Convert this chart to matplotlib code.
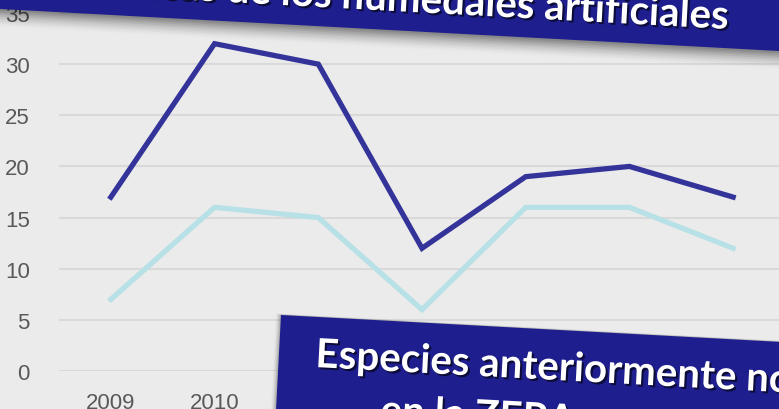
import matplotlib
matplotlib.use("Agg")
import matplotlib.pyplot as plt
from matplotlib.patches import Polygon
import matplotlib.patheffects as pe
import numpy as np

years = ["2009", "2010", "2011", "2012", "2013", "2014", "2015"]
serie_total = [17, 32, 30, 12, 19, 20, 17]
serie_nuevas = [7, 16, 15, 6, 16, 16, 12]
y_ticks = [0, 5, 10, 15, 20, 25, 30, 35]

W, H = 779, 410
fig = plt.figure(figsize=(W / 100, H / 100), dpi=100)
fig.patch.set_facecolor("#ebebeb")


def fx(x):
    return x / W


def fy(y):
    return 1 - y / H


ax = fig.add_axes([fx(59), fy(372), fx(785) - fx(59), fy(14) - fy(372)])
ax.set_facecolor("#ebebeb")
x = np.arange(len(years))
ax.plot(x, serie_nuevas, color="#b7e1e6", lw=3.8, solid_joinstyle="miter", zorder=3)
ax.plot(x, serie_total, color="#33339a", lw=3.8, solid_joinstyle="miter", zorder=4)
ax.set_xlim(-0.5, len(years) - 0.5)
ax.set_ylim(0, 35)
ax.set_yticks(y_ticks)
ax.set_yticklabels([str(v) for v in y_ticks], family="Liberation Sans")
ax.set_xticks(x)
ax.set_xticklabels(years, family="Liberation Sans")
ax.grid(axis="y", color="#d9d9d9", lw=1.5)
ax.set_axisbelow(True)
for s in ax.spines.values():
    s.set_visible(False)
ax.tick_params(axis="both", length=0, labelsize=16, colors="#595959")
ax.tick_params(axis="y", pad=21)
ax.tick_params(axis="x", pad=15)

navy = "#1e1e8e"
slope = 42 / 779.0

# shadow of top banner
for i in range(10):
    off = 2 + i * 1.8
    a = 0.09 * (1 - i / 10)
    pts = [(-10, -50), (800, -50), (800, 52 + off + (800 - 779) * slope), (-10, 10 - 10 * slope + off)]
    fig.patches.append(Polygon([(fx(p[0]), fy(p[1])) for p in pts], closed=True,
                               transform=fig.transFigure, facecolor="black", alpha=a,
                               edgecolor="none", zorder=10))
top = [(-10, -50), (800, -50), (800, 52 + (800 - 779) * slope), (-10, 10 - 10 * slope)]
fig.patches.append(Polygon([(fx(p[0]), fy(p[1])) for p in top], closed=True,
                           transform=fig.transFigure, facecolor=navy,
                           edgecolor="none", zorder=11))

# bottom banner
bl = [(281, 316), (800, 316 + (800 - 281) * slope), (800, 430), (275, 430)]
for i in range(6):
    off = 1.5 + i * 1.5
    a = 0.08 * (1 - i / 6)
    pts = [(p[0] - off * 0.6, p[1] - off * 0.2) for p in bl]
    fig.patches.append(Polygon([(fx(p[0]), fy(p[1])) for p in pts], closed=True,
                               transform=fig.transFigure, facecolor="black", alpha=a,
                               edgecolor="none", zorder=10))
fig.patches.append(Polygon([(fx(p[0]), fy(p[1])) for p in bl], closed=True,
                           transform=fig.transFigure, facecolor=navy,
                           edgecolor="none", zorder=11))

fx_shadow = [pe.SimplePatchShadow(offset=(1.5, -1.5), shadow_rgbFace="black", alpha=0.6), pe.Normal()]
ang = -np.degrees(np.arctan(slope))
font = ["Lato", "DejaVu Sans"]

fig.text(fx(728), fy(30), "Especies características de los humedales artificiales",
         ha="right", va="baseline", rotation=ang, rotation_mode="anchor",
         color="white", fontsize=29, fontweight="bold", family=font,
         path_effects=fx_shadow, zorder=12)

fig.text(fx(315), fy(368), "Especies anteriormente no presentes",
         ha="left", va="baseline", rotation=ang, rotation_mode="anchor",
         color="white", fontsize=29, fontweight="bold", family=font,
         path_effects=fx_shadow, zorder=12)
fig.text(fx(380), fy(424), "en la ZEPA antes de la creación",
         ha="left", va="baseline", rotation=ang, rotation_mode="anchor",
         color="white", fontsize=29, fontweight="bold", family=font,
         path_effects=fx_shadow, zorder=12)

fig.savefig("out.png", dpi=100, facecolor=fig.get_facecolor())
